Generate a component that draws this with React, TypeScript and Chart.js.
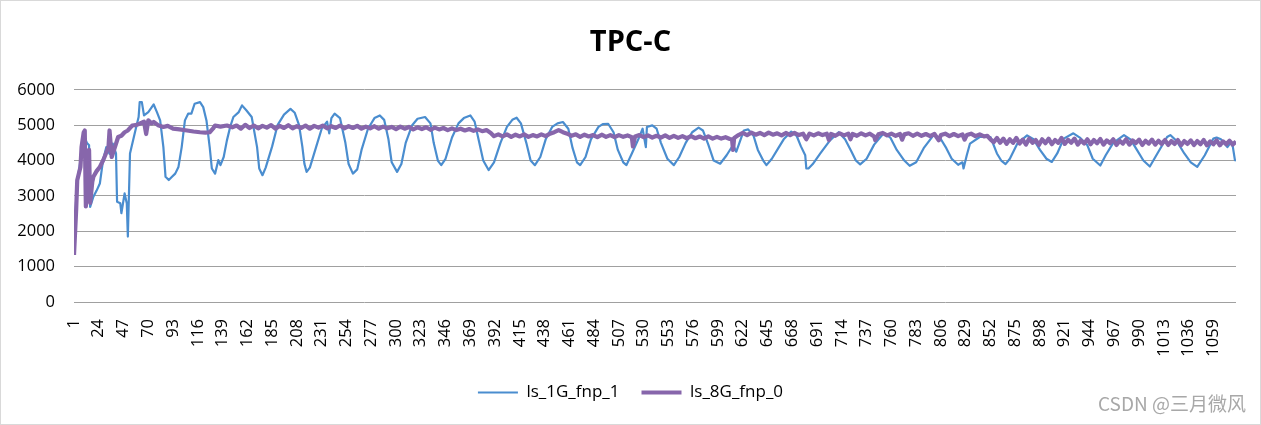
import React, { useEffect, useRef } from 'react';
import { Chart, registerables } from 'chart.js';

Chart.register(...registerables);

const chartTitle = 'TPC-C';
const seriesNames = ['ls_1G_fnp_1', 'ls_8G_fnp_0'];
const xRange = [1, 1080];
const xTickLabels = [
  1, 24, 47, 70, 93, 116, 139, 162, 185, 208, 231, 254, 277, 300, 323, 346, 369, 392, 415, 438,
  461, 484, 507, 530, 553, 576, 599, 622, 645, 668, 691, 714, 737, 760, 783, 806, 829, 852, 875,
  898, 921, 944, 967, 990, 1013, 1036, 1059,
];
const yRange = [0, 6000];
const yStep = 1000;

// [sample index, value]
const blueSamples: [number, number][] = [
  [1, 1400], [3, 2900], [5, 3600], [8, 4200], [11, 4650], [13, 4500], [15, 4430], [16, 2690],
  [19, 2975], [22, 3150], [25, 3350], [28, 4010], [31, 4380], [34, 4190], [37, 4480], [40, 4200],
  [41, 2835], [44, 2790], [45, 2510], [48, 3070], [50, 2790], [51, 1850], [53, 4200], [58, 4850],
  [61, 5230], [62, 5650], [64, 5650], [66, 5275], [70, 5370], [75, 5585], [78, 5370], [81, 5135],
  [84, 4380], [86, 3540], [89, 3450], [92, 3540], [95, 3630], [98, 3820], [101, 4380], [104, 5135],
  [107, 5325], [110, 5325], [113, 5605], [118, 5650], [121, 5510], [124, 5135], [127, 4380],
  [129, 3775], [132, 3630], [135, 4010], [137, 3870], [140, 4100], [143, 4570], [146, 4950],
  [149, 5230], [154, 5370], [157, 5560], [161, 5420], [166, 5230], [171, 4380], [173, 3775],
  [176, 3585], [179, 3800], [185, 4400], [190, 5000], [196, 5300], [202, 5460], [206, 5350],
  [210, 5000], [213, 4400], [215, 3900], [217, 3680], [220, 3800], [226, 4400], [231, 4900],
  [236, 5100], [238, 4770], [240, 5200], [243, 5325], [248, 5200], [253, 4500], [256, 3900],
  [260, 3630], [264, 3750], [268, 4300], [274, 4900], [280, 5200], [285, 5275], [289, 5150],
  [293, 4600], [296, 3950], [301, 3680], [305, 3900], [309, 4500], [315, 5000], [320, 5180],
  [327, 5230], [332, 5050], [335, 4500], [339, 3990], [342, 3870], [346, 4050], [352, 4650],
  [358, 5050], [363, 5200], [369, 5275], [373, 5100], [377, 4550], [381, 4000], [386, 3730],
  [391, 3950], [397, 4500], [403, 4950], [408, 5150], [412, 5210], [416, 5050], [421, 4500],
  [425, 4000], [429, 3870], [434, 4100], [439, 4600], [445, 4950], [450, 5050], [455, 5090],
  [460, 4900], [464, 4350], [468, 3950], [471, 3870], [476, 4100], [481, 4600], [488, 4950],
  [492, 5030], [497, 5040], [502, 4800], [506, 4300], [511, 3950], [514, 3870], [519, 4200],
  [525, 4600], [529, 4900], [532, 4380], [533, 4950], [538, 4995], [542, 4900], [546, 4500],
  [552, 4050], [558, 3870], [563, 4100], [569, 4500], [575, 4800], [581, 4930], [585, 4850],
  [590, 4450], [595, 4000], [601, 3910], [607, 4150], [613, 4440], [616, 4250], [623, 4850],
  [627, 4880], [632, 4700], [636, 4300], [641, 4000], [644, 3870], [649, 4050], [655, 4350],
  [660, 4600], [667, 4820], [672, 4700], [676, 4400], [680, 4150], [681, 3780], [683, 3775],
  [687, 3900], [694, 4200], [703, 4570], [711, 4800], [717, 4600], [723, 4250], [727, 4000],
  [731, 3890], [737, 4050], [744, 4450], [753, 4780], [759, 4650], [765, 4300], [772, 4000],
  [777, 3850], [783, 3950], [790, 4350], [799, 4710], [805, 4650], [811, 4350], [816, 4050],
  [822, 3880], [826, 3950], [827, 3775], [830, 4150], [833, 4480], [842, 4665], [852, 4665],
  [858, 4200], [862, 4000], [866, 3900], [870, 4050], [877, 4480], [886, 4710], [892, 4600],
  [898, 4300], [904, 4050], [909, 3960], [914, 4200], [920, 4620], [929, 4770], [935, 4650],
  [942, 4430], [947, 4050], [954, 3860], [959, 4150], [966, 4500], [976, 4720], [982, 4600],
  [988, 4300], [994, 4000], [1000, 3830], [1007, 4200], [1016, 4665], [1019, 4720], [1025, 4550],
  [1032, 4200], [1038, 3950], [1044, 3820], [1051, 4150], [1059, 4620], [1062, 4650], [1066, 4600],
  [1072, 4380], [1075, 4500], [1077, 4400], [1079, 4010], [1080, 4000],
];

const purpleSamples: [number, number][] = [
  [1, 1330], [3, 2600], [4, 3440], [7, 3820], [8, 4380], [10, 4800], [11, 4850], [12, 2700],
  [13, 3600], [14, 3725], [15, 4300], [16, 2800], [18, 3400], [19, 3540], [22, 3700], [25, 3820],
  [28, 4000], [30, 4150], [33, 4380], [34, 4850], [36, 4100], [39, 4380], [42, 4665], [45, 4700],
  [48, 4800], [51, 4850], [55, 4990], [58, 5000], [62, 5040], [66, 5100], [68, 4750], [70, 5135],
  [73, 5050], [75, 5090], [79, 5000], [84, 4950], [88, 4980], [93, 4900], [99, 4880], [106, 4850],
  [112, 4820], [118, 4800], [123, 4790], [127, 4800], [130, 4900], [132, 4990], [137, 4960],
  [143, 4990], [148, 4940],
  [152, 4990], [156, 4900], [160, 5010], [164, 4920], [168, 4990], [172, 4910], [176, 4980],
  [180, 4930], [184, 5000], [188, 4900], [192, 4980], [196, 4920], [200, 5000], [204, 4910],
  [208, 4970], [212, 4920], [216, 4990], [220, 4900], [224, 4980], [228, 4930], [232, 4990],
  [236, 4910], [240, 4970], [244, 4920], [248, 4990], [252, 4910], [256, 4970], [260, 4920],
  [264, 4980], [268, 4900], [272, 4960], [276, 4910], [280, 4970], [284, 4900], [288, 4960],
  [292, 4910], [296, 4950], [300, 4890], [304, 4960], [308, 4900], [312, 4950], [316, 4880],
  [320, 4940], [324, 4890], [328, 4940], [332, 4870], [336, 4930], [340, 4880], [344, 4920],
  [348, 4860], [352, 4910], [356, 4860], [360, 4900], [364, 4850], [368, 4890], [372, 4840],
  [376, 4880], [380, 4830], [384, 4860], [388, 4780], [391, 4690],
  [395, 4740], [399, 4680], [403, 4740], [407, 4670], [411, 4730], [415, 4680], [419, 4740],
  [423, 4670], [427, 4720], [431, 4680], [435, 4740], [439, 4690], [443, 4760], [447, 4800],
  [451, 4860], [455, 4800], [459, 4760], [463, 4700], [467, 4740], [471, 4670], [475, 4730],
  [479, 4680], [483, 4720], [487, 4660], [491, 4730], [495, 4670], [499, 4720], [503, 4660],
  [507, 4720], [511, 4670], [515, 4710], [519, 4660], [520, 4400], [522, 4680], [526, 4720],
  [530, 4660], [534, 4710], [538, 4650], [542, 4700], [546, 4650], [550, 4710], [554, 4640],
  [558, 4700], [562, 4640], [566, 4690], [570, 4630], [574, 4690], [578, 4630], [582, 4680],
  [586, 4620], [590, 4680], [594, 4620], [598, 4670], [602, 4620], [606, 4660], [610, 4610],
  [612, 4600], [613, 4300], [614, 4640], [618, 4720], [622, 4780],
  [626, 4720], [630, 4790], [634, 4730], [638, 4780], [642, 4720], [646, 4790], [650, 4730],
  [654, 4770], [658, 4710], [662, 4780], [666, 4720], [670, 4780], [674, 4720], [678, 4760],
  [681, 4600], [684, 4760], [688, 4710], [692, 4770], [696, 4720], [700, 4760], [702, 4580],
  [704, 4750], [708, 4700], [712, 4770], [716, 4710], [720, 4760], [722, 4600], [724, 4750],
  [728, 4700], [732, 4770], [736, 4710], [740, 4760], [744, 4680], [745, 4580], [748, 4740],
  [752, 4780], [756, 4710], [760, 4760], [764, 4700], [768, 4750], [770, 4590], [772, 4740],
  [776, 4770], [780, 4700], [784, 4760], [788, 4700], [792, 4750], [796, 4690], [800, 4750],
  [804, 4570], [806, 4720], [810, 4760], [814, 4690], [818, 4750], [822, 4690], [826, 4740],
  [828, 4590], [830, 4720], [834, 4760], [838, 4690], [842, 4740], [846, 4680], [849, 4700],
  [852, 4600], [855, 4520], [858, 4640], [861, 4500], [864, 4620], [867, 4470], [870, 4600],
  [873, 4500], [876, 4640], [879, 4480], [882, 4590], [885, 4450], [888, 4620], [891, 4500],
  [894, 4580], [897, 4440], [900, 4600], [903, 4490], [906, 4620], [909, 4460], [912, 4580],
  [915, 4500], [918, 4640], [921, 4470], [924, 4590], [927, 4500], [930, 4620], [933, 4450],
  [936, 4570], [939, 4480], [942, 4600], [945, 4460], [948, 4580], [951, 4490], [954, 4610],
  [957, 4450], [960, 4570], [963, 4490], [966, 4600], [969, 4440], [972, 4560], [975, 4480],
  [978, 4600], [981, 4450], [984, 4570], [987, 4490], [990, 4590], [993, 4440], [996, 4560],
  [999, 4480], [1002, 4590], [1005, 4450], [1008, 4560], [1011, 4470], [1014, 4580],
  [1017, 4440], [1020, 4550], [1023, 4470], [1026, 4580], [1029, 4430], [1032, 4550],
  [1035, 4470], [1038, 4570], [1041, 4440], [1044, 4550], [1047, 4460], [1050, 4580],
  [1053, 4430], [1056, 4540], [1059, 4460], [1062, 4570], [1065, 4430], [1068, 4540],
  [1071, 4460], [1074, 4560], [1077, 4450], [1080, 4540],
];

const BLUE = '#4a8dcf';
const PURPLE = '#8766ab';
const FONT = "'Open Sans', 'Liberation Sans', sans-serif";

export default function App() {
  const canvasRef = useRef<HTMLCanvasElement>(null);

  useEffect(() => {
    document.body.style.margin = '0';
    const canvas = canvasRef.current;
    if (!canvas) return;
    const chart = new Chart(canvas, {
      type: 'line',
      data: {
        datasets: [
          {
            label: seriesNames[0],
            data: blueSamples.map(([x, y]) => ({ x, y })),
            borderColor: BLUE,
            backgroundColor: BLUE,
            borderWidth: 2.2,
            pointRadius: 0,
            tension: 0,
            borderJoinStyle: 'round',
            order: 1,
          },
          {
            label: seriesNames[1],
            data: purpleSamples.map(([x, y]) => ({ x, y })),
            borderColor: PURPLE,
            backgroundColor: PURPLE,
            borderWidth: 4.2,
            pointRadius: 0,
            tension: 0,
            borderJoinStyle: 'round',
            order: 0,
          },
        ],
      },
      options: {
        animation: false,
        responsive: false,
        events: [],
        layout: { padding: { left: 0, right: 0, top: 0, bottom: 13 } },
        plugins: {
          title: {
            display: true,
            text: chartTitle,
            color: '#000',
            font: { family: FONT, size: 29, weight: 'bold' },
            padding: { top: 24, bottom: 30 },
          },
          legend: {
            position: 'bottom',
            labels: {
              usePointStyle: true,
              pointStyle: 'line',
              pointStyleWidth: 40,
              color: '#000',
              font: { family: FONT, size: 17 },
              padding: 22,
              sort: (a: any, b: any) => a.datasetIndex - b.datasetIndex,
            },
          },
          tooltip: { enabled: false },
        },
        scales: {
          x: {
            type: 'linear',
            min: xRange[0],
            max: xRange[1],
            afterBuildTicks: (scale: any) => {
              scale.ticks = xTickLabels.map((v) => ({ value: v }));
            },
            afterFit: (scale: any) => {
              scale.height = 60;
            },
            grid: { display: false },
            border: { display: false },
            ticks: {
              autoSkip: false,
              minRotation: 90,
              maxRotation: 90,
              padding: 9,
              color: '#000',
              font: { family: FONT, size: 16.5 },
              callback: (v: any) => String(v),
            },
          },
          y: {
            min: yRange[0],
            max: yRange[1],
            afterFit: (scale: any) => {
              scale.width = 73;
            },
            grid: { color: '#a0a0a0', drawTicks: false, lineWidth: 1 },
            border: { display: false },
            ticks: {
              stepSize: yStep,
              padding: 19,
              color: '#000',
              font: { family: FONT, size: 16.5 },
              callback: (v: any) => String(v),
            },
          },
          yRightSpace: {
            position: 'right',
            display: true,
            afterFit: (scale: any) => {
              scale.width = 24;
            },
            grid: { display: false },
            border: { display: false },
            ticks: { display: false },
          },
        },
      },
    });
    return () => chart.destroy();
  }, []);

  return (
    <div
      style={{
        position: 'relative',
        width: 1259,
        height: 423,
        border: '1px solid #d9d9d9',
        background: '#fff',
      }}
    >
      <canvas ref={canvasRef} width={1259} height={423} style={{ display: 'block' }} />
      <span
        style={{
          position: 'absolute',
          right: 14,
          top: 390,
          fontFamily: "'Noto Sans CJK SC', sans-serif",
          fontSize: 19,
          lineHeight: '24px',
          color: '#a8a8a8',
          whiteSpace: 'nowrap',
        }}
      >
        CSDN @三月微风
      </span>
    </div>
  );
}
